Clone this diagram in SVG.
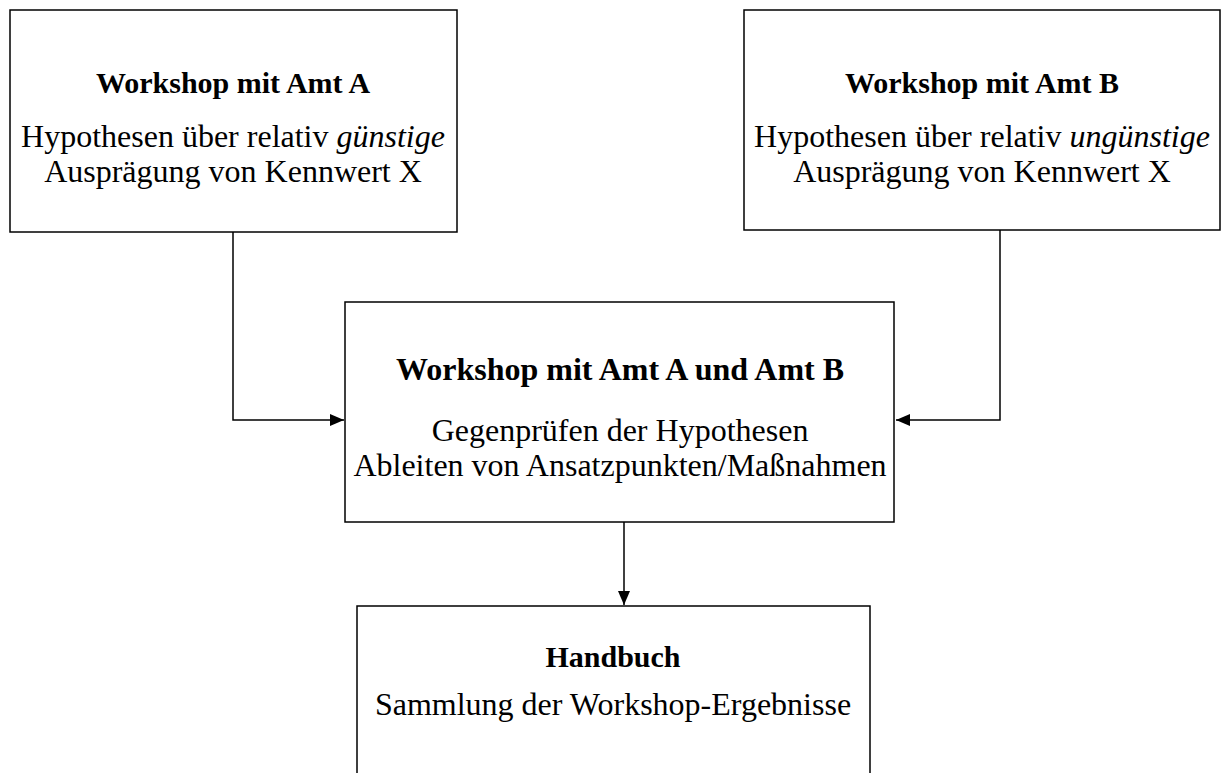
<svg xmlns="http://www.w3.org/2000/svg" width="1221" height="773" viewBox="0 0 1221 773">
<style>
.box{fill:#fff;stroke:#000;stroke-width:1.5}
.t{font-family:"Liberation Serif","Times New Roman",serif;font-size:32px;fill:#000;text-anchor:middle}
.b{font-weight:bold}
.s{font-size:30px}
.i{font-style:italic}
.c{fill:none;stroke:#000;stroke-width:1.5}
</style>
<defs>
<marker id="ah" markerWidth="14" markerHeight="12" refX="14" refY="6" orient="auto" markerUnits="userSpaceOnUse">
<path d="M0,0 L14,6 L0,12 Z" fill="#000"/>
</marker>
</defs>
<rect width="1221" height="773" fill="#fff"/>
<g id="connectors">
<path class="c" d="M233,232 V420 H344" marker-end="url(#ah)"/>
<path class="c" d="M1000,230 V420 H896" marker-end="url(#ah)"/>
<path class="c" d="M624,522 V605" marker-end="url(#ah)"/>
</g>
<g id="nodeA">
<rect class="box" x="10" y="10" width="447" height="222"/>
<text class="t b s" x="233" y="93">Workshop mit Amt A</text>
<text class="t" x="233" y="147">Hypothesen über relativ <tspan class="i">günstige</tspan></text>
<text class="t" x="233" y="182">Ausprägung von Kennwert X</text>
</g>
<g id="nodeB">
<rect class="box" x="744" y="10" width="476" height="220"/>
<text class="t b s" x="982" y="93">Workshop mit Amt B</text>
<text class="t" x="982" y="147">Hypothesen über relativ <tspan class="i">ungünstige</tspan></text>
<text class="t" x="982" y="182">Ausprägung von Kennwert X</text>
</g>
<g id="nodeAB">
<rect class="box" x="345" y="302" width="549" height="220"/>
<text class="t b" x="620" y="380">Workshop mit Amt A und Amt B</text>
<text class="t" x="620" y="441">Gegenprüfen der Hypothesen</text>
<text class="t" x="620" y="476">Ableiten von Ansatzpunkten/Maßnahmen</text>
</g>
<g id="nodeH">
<rect class="box" x="357" y="606" width="513" height="200"/>
<text class="t b s" x="613" y="667">Handbuch</text>
<text class="t" x="613" y="715">Sammlung der Workshop-Ergebnisse</text>
</g>
</svg>
